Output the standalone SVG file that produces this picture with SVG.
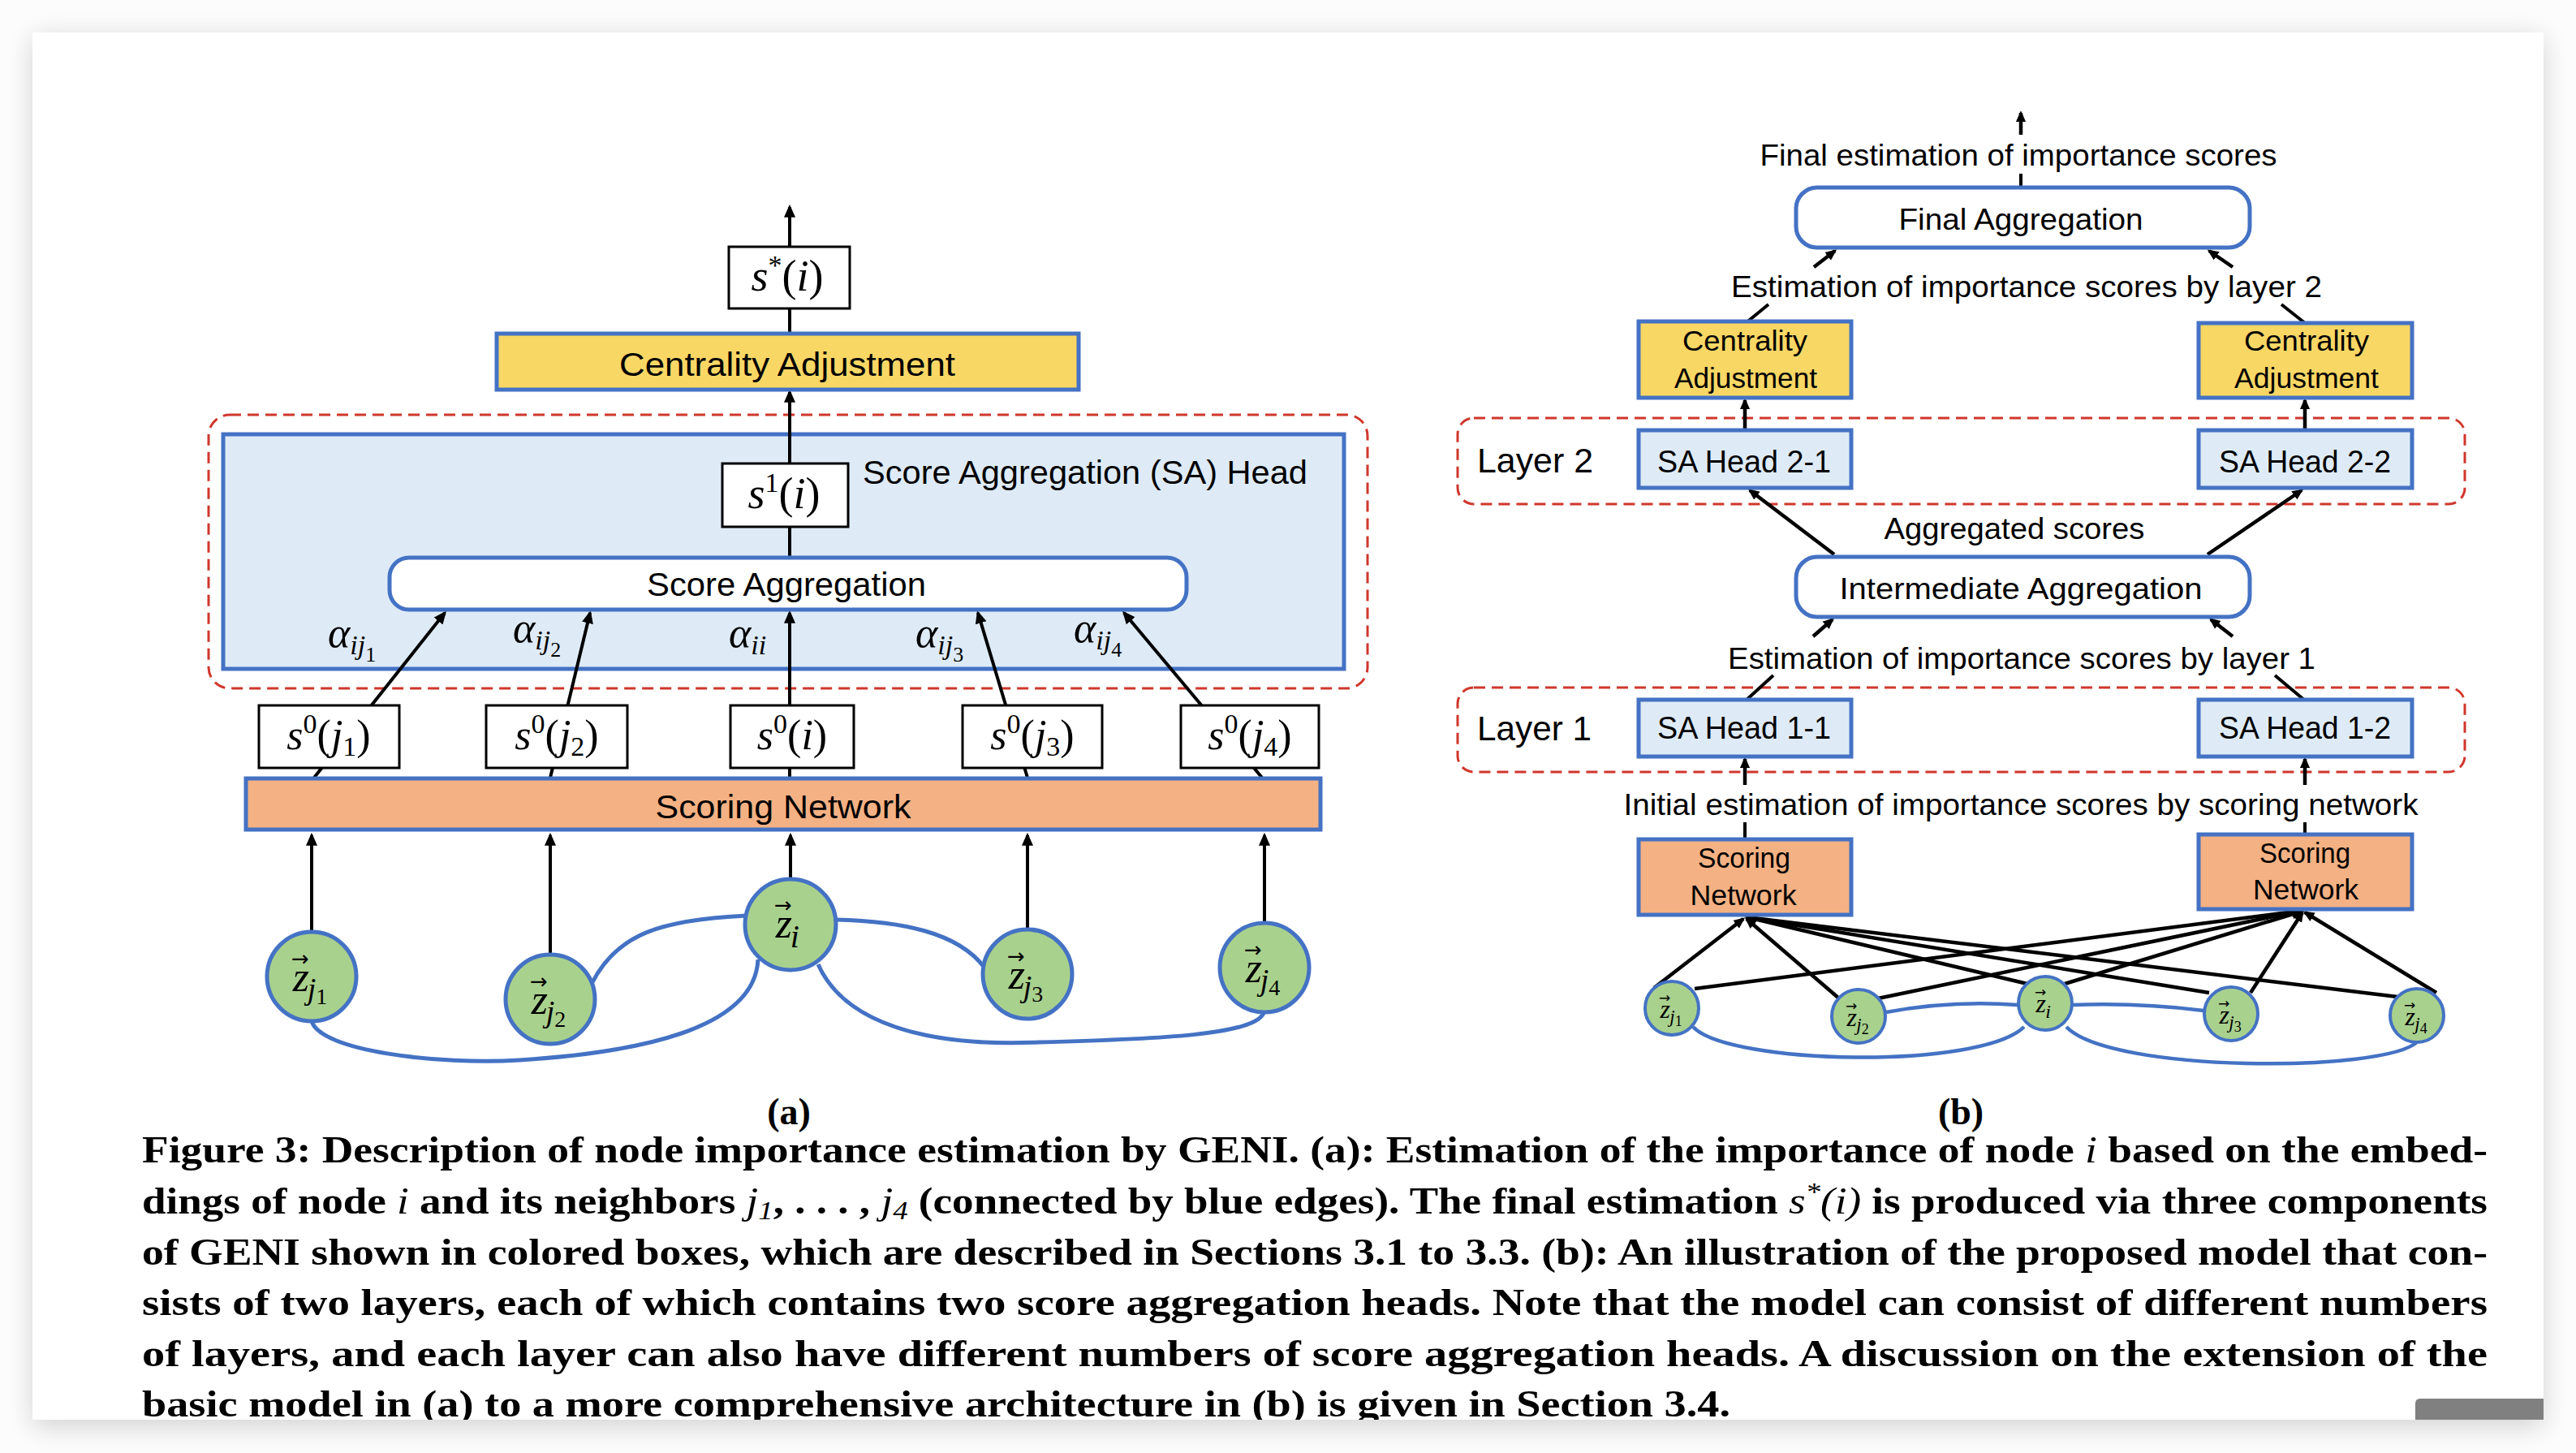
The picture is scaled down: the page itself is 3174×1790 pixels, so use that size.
<svg xmlns="http://www.w3.org/2000/svg" width="3174" height="1790" viewBox="0 0 3174 1790">
<defs>
<style>
.t{font-family:"Liberation Sans",Arial,sans-serif;fill:#000}
.m{font-family:"Liberation Serif","DejaVu Serif",serif;font-style:italic;fill:#000}
.u{font-style:normal}
.ar{font-family:"DejaVu Sans",sans-serif;font-style:normal}
.cap{font-family:"Liberation Serif","Times New Roman",serif;font-weight:bold;font-size:46px;fill:#000}
.mi{font-style:italic;font-weight:normal}
.blu{stroke:#4472C4;stroke-width:5}
.yel{fill:#F9D765}
.org{fill:#F4B183}
.lb{fill:#DEEBF7}
.wht{fill:#fff}
.bx{fill:#fff;stroke:#000;stroke-width:3}
.nd{fill:#A9D18E;stroke:#4472C4;stroke-width:5}
.nd2{fill:#A9D18E;stroke:#4472C4;stroke-width:4}
.red{fill:none;stroke:#D0372C;stroke-width:3;stroke-dasharray:14 8}
.k{stroke:#000;stroke-width:4;fill:none}
.ka{stroke:#000;stroke-width:4;fill:none;marker-end:url(#ah)}
.kb{stroke:#000;stroke-width:4.5;fill:none;marker-end:url(#ah2)}
.be{stroke:#4472C4;stroke-width:5;fill:none}
.be2{stroke:#4472C4;stroke-width:4.5;fill:none}
</style>
<marker id="ah" viewBox="0 0 10 10" refX="8" refY="5" markerWidth="16" markerHeight="16" markerUnits="userSpaceOnUse" orient="auto"><path d="M0,0.6 L10,5 L0,9.4 z" fill="#000"/></marker>
<marker id="ah2" viewBox="0 0 10 10" refX="8" refY="5" markerWidth="14" markerHeight="14" markerUnits="userSpaceOnUse" orient="auto"><path d="M0,0.6 L10,5 L0,9.4 z" fill="#000"/></marker>
<filter id="sh" x="-5%" y="-5%" width="110%" height="110%"><feGaussianBlur stdDeviation="16"/></filter>
<clipPath id="pg"><rect x="40" y="40" width="3094" height="1709"/></clipPath>
</defs>

<rect x="0" y="0" width="3174" height="1790" fill="#fcfcfc"/>
<rect x="40" y="46" width="3094" height="1712" fill="#000" opacity="0.16" filter="url(#sh)"/>
<rect x="40" y="40" width="3094" height="1709" fill="#fff"/>

<g clip-path="url(#pg)">
<g id="sa-head-group">
<rect x="257" y="511" width="1428" height="337" rx="26" class="red"/>
<rect x="275" y="535" width="1381" height="289" class="lb blu"/>
<text class="t" x="1063" y="596" font-size="41" textLength="548" lengthAdjust="spacingAndGlyphs">Score Aggregation (SA) Head</text>
</g>
<g id="layer2">
<rect x="1796" y="515" width="1241" height="106" rx="20" class="red"/>
<text class="t" x="1820" y="582" font-size="42" textLength="143" lengthAdjust="spacingAndGlyphs">Layer 2</text>
</g>
<g id="layer1">
<rect x="1796" y="847" width="1241" height="104" rx="20" class="red"/>
<text class="t" x="1820" y="912" font-size="42" textLength="141" lengthAdjust="spacingAndGlyphs">Layer 1</text>
</g>

<g id="connectors">
<line x1="973" y1="411" x2="973" y2="255" class="ka"/>
<line x1="973" y1="687" x2="973" y2="483" class="ka"/>
<line x1="387" y1="958" x2="548" y2="755" class="ka"/>
<line x1="678" y1="958" x2="727" y2="755" class="ka"/>
<line x1="973" y1="958" x2="973" y2="755" class="ka"/>
<line x1="1266" y1="958" x2="1205" y2="755" class="ka"/>
<line x1="1555" y1="958" x2="1385" y2="755" class="ka"/>
<line x1="384" y1="1148" x2="384" y2="1029" class="ka"/>
<line x1="678" y1="1176" x2="678" y2="1029" class="ka"/>
<line x1="974" y1="1083" x2="974" y2="1029" class="ka"/>
<line x1="1266" y1="1145" x2="1266" y2="1029" class="ka"/>
<line x1="1558" y1="1137" x2="1558" y2="1029" class="ka"/>
<path d="M729,1212 C760,1150 815,1133 920,1128" class="be"/>
<path d="M1030,1133 C1110,1135 1180,1148 1213,1192" class="be"/>
<path d="M384,1258 C395,1295 540,1312 640,1306 C780,1297 930,1270 934,1182" class="be"/>
<path d="M1008,1188 C1040,1260 1140,1290 1280,1284 C1430,1280 1545,1275 1557,1248" class="be"/>
<line x1="2490" y1="166" x2="2490" y2="139" class="kb"/>
<line x1="2490" y1="231" x2="2490" y2="214" class="k"/>
<line x1="2235" y1="329" x2="2261" y2="309" class="kb"/>
<line x1="2751" y1="329" x2="2722" y2="309" class="kb"/>
<line x1="2151" y1="398" x2="2179" y2="375" class="k"/>
<line x1="2840" y1="398" x2="2811" y2="375" class="k"/>
<line x1="2150" y1="530" x2="2150" y2="493" class="kb"/>
<line x1="2840" y1="530" x2="2840" y2="493" class="kb"/>
<line x1="2260" y1="683" x2="2156" y2="604" class="kb"/>
<line x1="2720" y1="683" x2="2836" y2="604" class="kb"/>
<line x1="2234" y1="784" x2="2258" y2="763" class="kb"/>
<line x1="2751" y1="784" x2="2724" y2="763" class="kb"/>
<line x1="2151" y1="863" x2="2185" y2="832" class="k"/>
<line x1="2840" y1="863" x2="2803" y2="832" class="k"/>
<line x1="2150" y1="967" x2="2150" y2="935" class="kb"/>
<line x1="2840" y1="967" x2="2840" y2="935" class="kb"/>
<line x1="2150" y1="1013" x2="2150" y2="1034" class="k"/>
<line x1="2840" y1="1013" x2="2840" y2="1028" class="k"/>
<line x1="2038" y1="1217" x2="2148" y2="1132" class="kb"/>
<line x1="2266" y1="1230" x2="2152" y2="1132" class="kb"/>
<line x1="2498" y1="1212" x2="2153" y2="1130" class="kb"/>
<line x1="2722" y1="1223" x2="2153" y2="1130" class="kb"/>
<line x1="2954" y1="1228" x2="2153" y2="1130" class="kb"/>
<line x1="2088" y1="1218" x2="2835" y2="1122" class="kb"/>
<line x1="2314" y1="1230" x2="2835" y2="1122" class="kb"/>
<line x1="2544" y1="1212" x2="2835" y2="1123" class="kb"/>
<line x1="2773" y1="1223" x2="2837" y2="1124" class="kb"/>
<line x1="3002" y1="1223" x2="2840" y2="1124" class="kb"/>
<path d="M2324,1247 Q2405,1232 2486,1238" class="be2"/>
<path d="M2554,1238 Q2635,1235 2715,1245" class="be2"/>
<path d="M2086,1265 C2130,1312 2440,1318 2494,1265" class="be2"/>
<path d="M2546,1265 C2600,1322 2940,1322 2979,1283" class="be2"/>
</g>

<g id="s-star">
<rect x="898" y="304" width="149" height="76" class="bx"/>
<text class="m" x="970" y="358" font-size="54" text-anchor="middle">s<tspan class="u" font-size="34" dy="-20">*</tspan><tspan class="u" dy="20">(</tspan>i<tspan class="u">)</tspan></text>
</g>
<g id="centrality-a">
<rect x="612" y="411" width="717" height="69" class="yel blu"/>
<text class="t" x="970" y="463" font-size="41" text-anchor="middle" textLength="414" lengthAdjust="spacingAndGlyphs">Centrality Adjustment</text>
</g>
<g id="s1">
<rect x="890" y="571" width="155" height="78" class="bx"/>
<text class="m" x="966" y="626" font-size="54" text-anchor="middle">s<tspan class="u" font-size="34" dy="-20">1</tspan><tspan class="u" dy="20">(</tspan>i<tspan class="u">)</tspan></text>
</g>
<g id="score-agg">
<rect x="480" y="687" width="982" height="64" rx="24" class="wht blu"/>
<text class="t" x="969" y="734" font-size="41" text-anchor="middle" textLength="344" lengthAdjust="spacingAndGlyphs">Score Aggregation</text>
</g>
<g id="alphas">
<text class="m" x="404" y="797" font-size="52">α<tspan font-size="34" dy="9">ij</tspan><tspan class="u" font-size="26" dy="9">1</tspan></text>
<text class="m" x="632" y="791" font-size="52">α<tspan font-size="34" dy="9">ij</tspan><tspan class="u" font-size="26" dy="9">2</tspan></text>
<text class="m" x="898" y="797" font-size="52">α<tspan font-size="34" dy="9">ii</tspan></text>
<text class="m" x="1128" y="797" font-size="52">α<tspan font-size="34" dy="9">ij</tspan><tspan class="u" font-size="26" dy="9">3</tspan></text>
<text class="m" x="1323" y="791" font-size="52">α<tspan font-size="34" dy="9">ij</tspan><tspan class="u" font-size="26" dy="9">4</tspan></text>
</g>
<g id="s0-j1">
<rect x="319" y="869" width="173" height="77" class="bx"/>
<text class="m" x="405" y="923" font-size="52" text-anchor="middle">s<tspan class="u" font-size="34" dy="-20">0</tspan><tspan class="u" dy="20">(</tspan>j<tspan class="u" font-size="34" dy="8">1</tspan><tspan class="u" dy="-8">)</tspan></text>
</g>
<g id="s0-j2">
<rect x="599" y="869" width="174" height="77" class="bx"/>
<text class="m" x="686" y="923" font-size="52" text-anchor="middle">s<tspan class="u" font-size="34" dy="-20">0</tspan><tspan class="u" dy="20">(</tspan>j<tspan class="u" font-size="34" dy="8">2</tspan><tspan class="u" dy="-8">)</tspan></text>
</g>
<g id="s0-i">
<rect x="900" y="869" width="152" height="77" class="bx"/>
<text class="m" x="976" y="923" font-size="52" text-anchor="middle">s<tspan class="u" font-size="34" dy="-20">0</tspan><tspan class="u" dy="20">(</tspan>i<tspan class="u">)</tspan></text>
</g>
<g id="s0-j3">
<rect x="1186" y="869" width="172" height="77" class="bx"/>
<text class="m" x="1272" y="923" font-size="52" text-anchor="middle">s<tspan class="u" font-size="34" dy="-20">0</tspan><tspan class="u" dy="20">(</tspan>j<tspan class="u" font-size="34" dy="8">3</tspan><tspan class="u" dy="-8">)</tspan></text>
</g>
<g id="s0-j4">
<rect x="1455" y="869" width="170" height="77" class="bx"/>
<text class="m" x="1540" y="923" font-size="52" text-anchor="middle">s<tspan class="u" font-size="34" dy="-20">0</tspan><tspan class="u" dy="20">(</tspan>j<tspan class="u" font-size="34" dy="8">4</tspan><tspan class="u" dy="-8">)</tspan></text>
</g>
<g id="scoring-a">
<rect x="303" y="959" width="1324" height="63" class="org blu"/>
<text class="t" x="965" y="1008" font-size="41" text-anchor="middle" textLength="315" lengthAdjust="spacingAndGlyphs">Scoring Network</text>
</g>
<g id="z-j1">
<circle cx="384" cy="1203" r="55" class="nd"/>
<text class="m" x="359" y="1221" font-size="52">z<tspan class="ar" font-size="26" dx="-22" dy="-31">→</tspan><tspan font-size="38" dx="-2" dy="41">j</tspan><tspan class="u" font-size="28" dy="6">1</tspan></text>
</g>
<g id="z-j2">
<circle cx="678" cy="1231" r="55" class="nd"/>
<text class="m" x="653" y="1249" font-size="52">z<tspan class="ar" font-size="26" dx="-22" dy="-31">→</tspan><tspan font-size="38" dx="-2" dy="41">j</tspan><tspan class="u" font-size="28" dy="6">2</tspan></text>
</g>
<g id="z-i">
<circle cx="974" cy="1139" r="56" class="nd" stroke-width="7"/>
<text class="m" x="954" y="1155" font-size="52">z<tspan class="ar" font-size="26" dx="-22" dy="-31">→</tspan><tspan font-size="40" dx="-2" dy="43">i</tspan></text>
</g>
<g id="z-j3">
<circle cx="1266" cy="1200" r="55" class="nd"/>
<text class="m" x="1241" y="1218" font-size="52">z<tspan class="ar" font-size="26" dx="-22" dy="-31">→</tspan><tspan font-size="38" dx="-2" dy="41">j</tspan><tspan class="u" font-size="28" dy="6">3</tspan></text>
</g>
<g id="z-j4">
<circle cx="1558" cy="1192" r="55" class="nd"/>
<text class="m" x="1533" y="1210" font-size="52">z<tspan class="ar" font-size="26" dx="-22" dy="-31">→</tspan><tspan font-size="38" dx="-2" dy="41">j</tspan><tspan class="u" font-size="28" dy="6">4</tspan></text>
</g>

<g id="final-label"><text class="t" x="2487" y="204" font-size="37" text-anchor="middle" textLength="637" lengthAdjust="spacingAndGlyphs">Final estimation of importance scores</text></g>
<g id="final-agg">
<rect x="2213" y="231" width="559" height="74" rx="26" class="wht blu"/>
<text class="t" x="2490" y="283" font-size="37" text-anchor="middle" textLength="301" lengthAdjust="spacingAndGlyphs">Final Aggregation</text>
</g>
<g id="est2-label"><text class="t" x="2497" y="366" font-size="37" text-anchor="middle" textLength="728" lengthAdjust="spacingAndGlyphs">Estimation of importance scores by layer 2</text></g>
<g id="centrality-b1">
<rect x="2019" y="396" width="262" height="94" class="yel blu"/>
<text class="t" x="2150" y="432" font-size="35" text-anchor="middle" textLength="154" lengthAdjust="spacingAndGlyphs">Centrality</text>
<text class="t" x="2151" y="478" font-size="35" text-anchor="middle" textLength="176" lengthAdjust="spacingAndGlyphs">Adjustment</text>
</g>
<g id="centrality-b2">
<rect x="2709" y="398" width="263" height="92" class="yel blu"/>
<text class="t" x="2842" y="432" font-size="35" text-anchor="middle" textLength="154" lengthAdjust="spacingAndGlyphs">Centrality</text>
<text class="t" x="2842" y="478" font-size="35" text-anchor="middle" textLength="178" lengthAdjust="spacingAndGlyphs">Adjustment</text>
</g>
<g id="sa21">
<rect x="2019" y="530" width="262" height="71" class="lb blu"/>
<text class="t" x="2149" y="582" font-size="38" text-anchor="middle" textLength="214" lengthAdjust="spacingAndGlyphs">SA Head 2-1</text>
</g>
<g id="sa22">
<rect x="2709" y="530" width="263" height="71" class="lb blu"/>
<text class="t" x="2840" y="582" font-size="38" text-anchor="middle" textLength="212" lengthAdjust="spacingAndGlyphs">SA Head 2-2</text>
</g>
<g id="agg-label"><text class="t" x="2482" y="664" font-size="37" text-anchor="middle" textLength="321" lengthAdjust="spacingAndGlyphs">Aggregated scores</text></g>
<g id="inter-agg">
<rect x="2213" y="686" width="559" height="74" rx="26" class="wht blu"/>
<text class="t" x="2490" y="738" font-size="37" text-anchor="middle" textLength="447" lengthAdjust="spacingAndGlyphs">Intermediate Aggregation</text>
</g>
<g id="est1-label"><text class="t" x="2491" y="824" font-size="37" text-anchor="middle" textLength="724" lengthAdjust="spacingAndGlyphs">Estimation of importance scores by layer 1</text></g>
<g id="sa11">
<rect x="2019" y="862" width="262" height="70" class="lb blu"/>
<text class="t" x="2149" y="910" font-size="38" text-anchor="middle" textLength="214" lengthAdjust="spacingAndGlyphs">SA Head 1-1</text>
</g>
<g id="sa12">
<rect x="2709" y="862" width="263" height="70" class="lb blu"/>
<text class="t" x="2840" y="910" font-size="38" text-anchor="middle" textLength="212" lengthAdjust="spacingAndGlyphs">SA Head 1-2</text>
</g>
<g id="init-label"><text class="t" x="2490" y="1004" font-size="37" text-anchor="middle" textLength="979" lengthAdjust="spacingAndGlyphs">Initial estimation of importance scores by scoring network</text></g>
<g id="scoring-b1">
<rect x="2019" y="1034" width="262" height="93" class="org blu"/>
<text class="t" x="2149" y="1069" font-size="35" text-anchor="middle" textLength="114" lengthAdjust="spacingAndGlyphs">Scoring</text>
<text class="t" x="2148" y="1115" font-size="35" text-anchor="middle" textLength="131" lengthAdjust="spacingAndGlyphs">Network</text>
</g>
<g id="scoring-b2">
<rect x="2709" y="1028" width="263" height="92" class="org blu"/>
<text class="t" x="2840" y="1063" font-size="35" text-anchor="middle" textLength="112" lengthAdjust="spacingAndGlyphs">Scoring</text>
<text class="t" x="2841" y="1108" font-size="35" text-anchor="middle" textLength="130" lengthAdjust="spacingAndGlyphs">Network</text>
</g>
<g id="zb-j1">
<circle cx="2060" cy="1242" r="33" class="nd2"/>
<text class="m" x="2044" y="1254" font-size="32">z<tspan class="ar" font-size="17" dx="-14" dy="-19">→</tspan><tspan font-size="23" dx="-1" dy="25">j</tspan><tspan class="u" font-size="18" dy="4">1</tspan></text>
</g>
<g id="zb-j2">
<circle cx="2290" cy="1252" r="33" class="nd2"/>
<text class="m" x="2274" y="1264" font-size="32">z<tspan class="ar" font-size="17" dx="-14" dy="-19">→</tspan><tspan font-size="23" dx="-1" dy="25">j</tspan><tspan class="u" font-size="18" dy="4">2</tspan></text>
</g>
<g id="zb-i">
<circle cx="2520" cy="1236" r="33" class="nd2" stroke-width="6"/>
<text class="m" x="2507" y="1247" font-size="32">z<tspan class="ar" font-size="17" dx="-14" dy="-19">→</tspan><tspan font-size="24" dx="-1" dy="26">i</tspan></text>
</g>
<g id="zb-j3">
<circle cx="2749" cy="1249" r="33" class="nd2"/>
<text class="m" x="2733" y="1261" font-size="32">z<tspan class="ar" font-size="17" dx="-14" dy="-19">→</tspan><tspan font-size="23" dx="-1" dy="25">j</tspan><tspan class="u" font-size="18" dy="4">3</tspan></text>
</g>
<g id="zb-j4">
<circle cx="2978" cy="1251" r="33" class="nd2"/>
<text class="m" x="2962" y="1263" font-size="32">z<tspan class="ar" font-size="17" dx="-14" dy="-19">→</tspan><tspan font-size="23" dx="-1" dy="25">j</tspan><tspan class="u" font-size="18" dy="4">4</tspan></text>
</g>

<text class="cap" x="972" y="1385" text-anchor="middle">(a)</text>
<text class="cap" x="2416" y="1385" text-anchor="middle">(b)</text>
<text class="cap" x="175" y="1432" textLength="2890" lengthAdjust="spacingAndGlyphs">Figure 3: Description of node importance estimation by GENI. (a): Estimation of the importance of node <tspan class="mi">i</tspan> based on the embed-</text>
<text class="cap" x="175" y="1495" textLength="2890" lengthAdjust="spacingAndGlyphs">dings of node <tspan class="mi">i</tspan> and its neighbors <tspan class="mi">j</tspan><tspan class="mi" font-size="32" dy="7">1</tspan><tspan dy="-7">, . . . , </tspan><tspan class="mi">j</tspan><tspan class="mi" font-size="32" dy="7">4</tspan><tspan dy="-7"> (connected by blue edges). The final estimation </tspan><tspan class="mi">s</tspan><tspan class="mi" font-size="32" dy="-16">*</tspan><tspan class="mi" dy="16">(i)</tspan> is produced via three components</text>
<text class="cap" x="175" y="1558" textLength="2890" lengthAdjust="spacingAndGlyphs">of GENI shown in colored boxes, which are described in Sections 3.1 to 3.3. (b): An illustration of the proposed model that con-</text>
<text class="cap" x="175" y="1620" textLength="2890" lengthAdjust="spacingAndGlyphs">sists of two layers, each of which contains two score aggregation heads. Note that the model can consist of different numbers</text>
<text class="cap" x="175" y="1683" textLength="2890" lengthAdjust="spacingAndGlyphs">of layers, and each layer can also have different numbers of score aggregation heads. A discussion on the extension of the</text>
<text class="cap" x="175" y="1745" textLength="1957" lengthAdjust="spacingAndGlyphs">basic model in (a) to a more comprehensive architecture in (b) is given in Section 3.4.</text>
<path d="M2982,1723 H3134 V1749 H2976 V1729 Q2976,1723 2982,1723 Z" fill="#808080"/>
</g>
</svg>
